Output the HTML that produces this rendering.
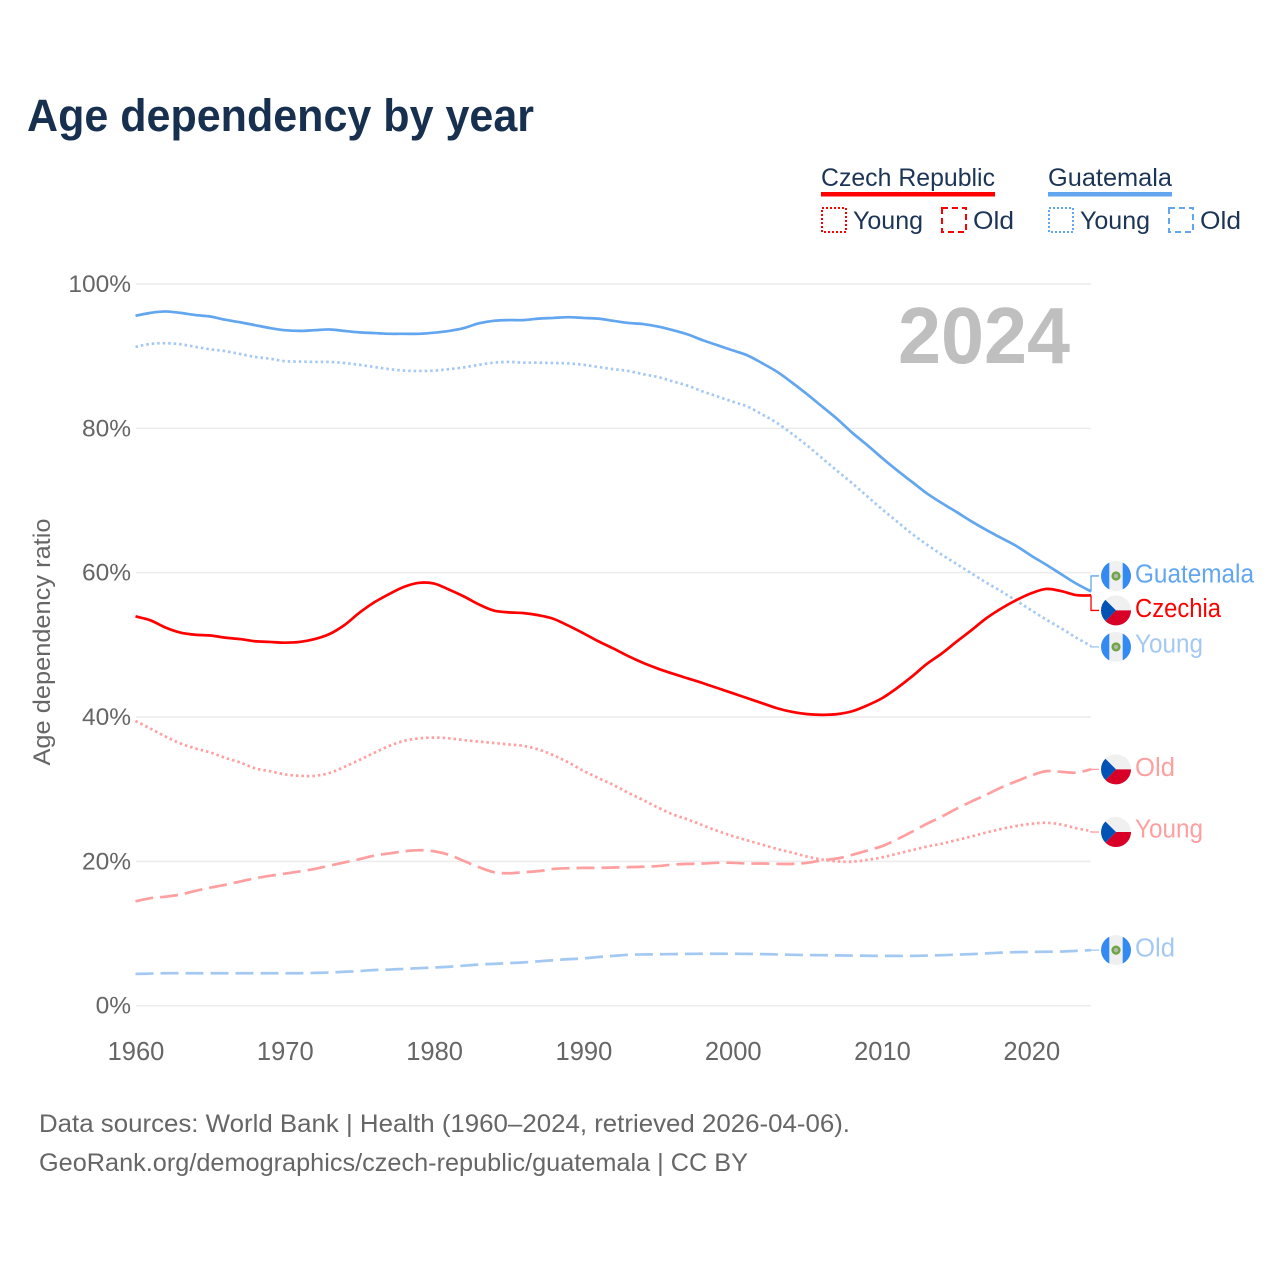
<!DOCTYPE html>
<html lang="en">
<head>
<meta charset="utf-8">
<title>Age dependency by year</title>
<style>
html,body{margin:0;padding:0;background:#fff;}
svg{display:block;}
text{font-family:"Liberation Sans",sans-serif;}
</style>
</head>
<body>
<svg id="chart" xmlns="http://www.w3.org/2000/svg" width="1280" height="1280" viewBox="0 0 1280 1280">
  <rect width="1280" height="1280" fill="#fff"/>
  <text x="27" y="131" font-size="45" font-weight="700" fill="#17304f" textLength="507" lengthAdjust="spacingAndGlyphs">Age dependency by year</text>

  <g font-size="25" fill="#1c3557">
    <g>
      <text x="821" y="186" textLength="174" lengthAdjust="spacingAndGlyphs">Czech Republic</text>
      <rect x="821" y="192" width="174" height="4.5" fill="#ff0000"/>
    </g>
    <g>
      <rect x="822" y="208" width="24" height="24" fill="none" stroke="#ff0000" stroke-width="2" stroke-dasharray="2 2"/>
      <text x="853" y="229" textLength="70" lengthAdjust="spacingAndGlyphs">Young</text>
    </g>
    <g>
      <rect x="942" y="208" width="24" height="24" fill="none" stroke="#ff0000" stroke-width="2" stroke-dasharray="6 4"/>
      <text x="973" y="229" textLength="41" lengthAdjust="spacingAndGlyphs">Old</text>
    </g>
    <g>
      <text x="1048" y="186" textLength="124" lengthAdjust="spacingAndGlyphs">Guatemala</text>
      <rect x="1048" y="192" width="124" height="4.5" fill="#62a6ef"/>
    </g>
    <g>
      <rect x="1049" y="208" width="24" height="24" fill="none" stroke="#62a6ef" stroke-width="2" stroke-dasharray="2 2"/>
      <text x="1080" y="229" textLength="70" lengthAdjust="spacingAndGlyphs">Young</text>
    </g>
    <g>
      <rect x="1169" y="208" width="24" height="24" fill="none" stroke="#62a6ef" stroke-width="2" stroke-dasharray="6 4"/>
      <text x="1200" y="229" textLength="41" lengthAdjust="spacingAndGlyphs">Old</text>
    </g>
  </g>

  <g id="grid"></g>
  <g id="yticks"></g>
  <g id="xticks"></g>
  <text transform="translate(50,642) rotate(-90)" text-anchor="middle" font-size="24.5" fill="#666" textLength="247" lengthAdjust="spacingAndGlyphs">Age dependency ratio</text>
  <text x="898" y="363" font-size="80" font-weight="700" fill="#bfbfbf" textLength="172" lengthAdjust="spacingAndGlyphs">2024</text>
  <g id="series"></g>
  <g id="endlabels"></g>

  <g font-size="25" fill="#666">
    <text x="39" y="1132" textLength="811" lengthAdjust="spacingAndGlyphs">Data sources: World Bank | Health (1960–2024, retrieved 2026-04-06).</text>
    <text x="39" y="1171" textLength="709" lengthAdjust="spacingAndGlyphs">GeoRank.org/demographics/czech-republic/guatemala | CC BY</text>
  </g>
</svg>

<script>
const startYear = 1960;
const xTickYears = [1960, 1970, 1980, 1990, 2000, 2010, 2020];
const yTickValues = [0, 20, 40, 60, 80, 100];
const yTickLabels = ["0%", "20%", "40%", "60%", "80%", "100%"];

const guatemalaTotal = [95.6,96.0,96.2,96.0,95.7,95.5,95.05,94.7,94.3,93.9,93.6,93.5,93.6,93.7,93.5,93.3,93.2,93.1,93.1,93.1,93.25,93.5,93.9,94.55,94.9,95.0,95.0,95.2,95.3,95.4,95.3,95.2,94.9,94.6,94.45,94.1,93.6,93.0,92.2,91.5,90.8,90.1,89.0,87.8,86.3,84.7,83.0,81.3,79.4,77.7,75.9,74.2,72.6,71.0,69.65,68.4,67.1,65.9,64.8,63.7,62.35,61.1,59.8,58.5,57.4];
const guatemalaYoung = [91.3,91.7,91.8,91.65,91.3,90.95,90.7,90.3,89.9,89.65,89.3,89.25,89.2,89.2,89.05,88.8,88.5,88.2,88.0,87.95,88.0,88.2,88.45,88.8,89.1,89.2,89.1,89.1,89.05,89.0,88.8,88.5,88.2,87.95,87.5,87.1,86.5,85.9,85.1,84.4,83.7,83.0,81.9,80.7,79.2,77.6,75.85,74.1,72.4,70.6,68.8,67.1,65.4,63.9,62.5,61.2,59.9,58.6,57.4,56.1,54.8,53.5,52.3,51.0,49.85];
const guatemalaOld = [4.4,4.45,4.5,4.5,4.5,4.5,4.5,4.5,4.5,4.5,4.5,4.5,4.55,4.6,4.7,4.8,4.95,5.0,5.1,5.2,5.3,5.4,5.55,5.7,5.8,5.9,6.0,6.15,6.3,6.45,6.55,6.75,6.9,7.05,7.1,7.12,7.15,7.18,7.2,7.2,7.2,7.18,7.15,7.1,7.05,7.02,7.0,6.97,6.95,6.92,6.9,6.9,6.9,6.95,7.0,7.08,7.15,7.25,7.35,7.42,7.45,7.48,7.5,7.6,7.7];
const czechTotal = [53.95,53.4,52.4,51.7,51.4,51.3,51.0,50.8,50.5,50.4,50.3,50.4,50.8,51.5,52.75,54.45,55.9,57.05,58.05,58.6,58.5,57.65,56.7,55.6,54.75,54.5,54.4,54.1,53.6,52.65,51.6,50.5,49.5,48.45,47.5,46.7,46.0,45.35,44.7,44.0,43.3,42.6,41.9,41.2,40.7,40.4,40.3,40.4,40.8,41.6,42.6,44.0,45.6,47.35,48.8,50.45,52.05,53.7,55.05,56.2,57.15,57.75,57.45,56.9,56.85];
const czechYoung = [39.45,38.4,37.3,36.35,35.65,35.1,34.35,33.7,32.9,32.5,32.05,31.85,31.85,32.25,33.1,34.05,35.05,36.0,36.7,37.05,37.15,37.05,36.8,36.6,36.4,36.2,36.0,35.5,34.7,33.7,32.55,31.55,30.6,29.5,28.5,27.45,26.5,25.8,25.0,24.2,23.5,22.9,22.3,21.7,21.2,20.65,20.25,20.0,19.95,20.2,20.55,21.05,21.55,22.05,22.45,22.95,23.45,24.0,24.5,24.9,25.2,25.35,25.1,24.6,24.2];
const czechOld = [14.45,14.9,15.1,15.4,15.9,16.35,16.75,17.2,17.65,18.0,18.3,18.6,18.95,19.4,19.85,20.3,20.8,21.1,21.4,21.55,21.4,20.9,20.05,19.2,18.5,18.35,18.5,18.65,18.95,19.05,19.1,19.1,19.15,19.2,19.25,19.35,19.55,19.65,19.7,19.8,19.8,19.7,19.7,19.65,19.65,19.8,20.15,20.4,20.9,21.5,22.1,23.05,24.1,25.2,26.2,27.3,28.3,29.25,30.25,31.1,31.9,32.5,32.4,32.3,32.75];

const SVG_NS = "http://www.w3.org/2000/svg";
function xScale(year) { return 135.5 + (year - startYear) * 14.93; }
function yScale(value) { return 1005.7 - value * 7.217; }
function make(tag, attrs, parent) {
  const el = document.createElementNS(SVG_NS, tag);
  for (const k in attrs) el.setAttribute(k, attrs[k]);
  parent.appendChild(el);
  return el;
}

const gridGroup = document.getElementById("grid");
const yTickGroup = document.getElementById("yticks");
const xTickGroup = document.getElementById("xticks");
const seriesGroup = document.getElementById("series");
const labelGroup = document.getElementById("endlabels");

yTickValues.forEach(function (v, i) {
  const line = make("line", {x1: 136, x2: xScale(2024), y1: yScale(v), y2: yScale(v), stroke: "#ececec", "stroke-width": 1.5}, gridGroup);
  
  
  const t = make("text", {x: 131, y: yScale(v) + 8, "text-anchor": "end", "font-size": 24.5, fill: "#666"}, yTickGroup);
  t.textContent = yTickLabels[i];
  
  
});

xTickYears.forEach(function (yr) {
  const t = make("text", {x: xScale(yr) + 0.5, y: 1060, "text-anchor": "middle", "font-size": 25.5, fill: "#666"}, xTickGroup);
  t.textContent = String(yr);
  
  
});

function smoothPath(values) {
  const px = values.map(function (v, i) { return [xScale(startYear + i), yScale(v)]; });
  let d = "M" + px[0][0].toFixed(2) + "," + px[0][1].toFixed(2);
  for (let i = 0; i < px.length - 1; i++) {
    const p0 = px[Math.max(i - 1, 0)], p1 = px[i], p2 = px[i + 1], p3 = px[Math.min(i + 2, px.length - 1)];
    const c1x = p1[0] + (p2[0] - p0[0]) / 6, c1y = p1[1] + (p2[1] - p0[1]) / 6;
    const c2x = p2[0] - (p3[0] - p1[0]) / 6, c2y = p2[1] - (p3[1] - p1[1]) / 6;
    d += " C" + c1x.toFixed(2) + "," + c1y.toFixed(2) + " " + c2x.toFixed(2) + "," + c2y.toFixed(2) + " " + p2[0].toFixed(2) + "," + p2[1].toFixed(2);
  }
  return d;
}

function drawLine(values, color, dash, name) {
  const attrs = {d: smoothPath(values), fill: "none", stroke: color, "stroke-width": 2.7, "stroke-linejoin": "round"};
  if (dash) attrs["stroke-dasharray"] = dash;
  const el = make("path", attrs, seriesGroup);
  
  
}

const RED = "#ff0000", BLUE = "#62a6ef", PINK = "#ff9f9f", SKY = "#a3c9f3";
const DOT = "2.5 3", DASH = "18 7";
drawLine(czechOld, PINK, DASH, "czech-old-line");
drawLine(czechYoung, PINK, DOT, "czech-young-line");
drawLine(guatemalaOld, SKY, DASH, "guatemala-old-line");
drawLine(guatemalaYoung, SKY, DOT, "guatemala-young-line");
drawLine(czechTotal, RED, null, "czech-total-line");
drawLine(guatemalaTotal, BLUE, null, "guatemala-total-line");

function drawFlag(country, cy, parent) {
  const cx = 1116, r = 15;
  const g = make("g", {transform: "translate(" + cx + "," + cy + ")"}, parent);
  
  
  make("circle", {r: r, fill: "#f0f0f0"}, g);
  if (country === "czech") {
    make("path", {d: "M0,0 L15,0 A15,15 0 0 1 -10.6,10.6 Z", fill: "#d80027"}, g);
    make("path", {d: "M-10.6,-10.6 L0,0 L-10.6,10.6 A15,15 0 0 1 -10.6,-10.6 Z", fill: "#0052b4"}, g);
  } else {
    make("path", {d: "M-6.7,-13.4 A15,15 0 0 0 -6.7,13.4 Z", fill: "#338af3"}, g);
    make("path", {d: "M6.7,-13.4 A15,15 0 0 1 6.7,13.4 Z", fill: "#338af3"}, g);
    make("circle", {r: 3.4, fill: "#b9b9a8", stroke: "#6da544", "stroke-width": 2.4}, g);
  }
}

function drawEndLabel(values, offset, color, text, country, width, name) {
  const endX = xScale(2024), endY = yScale(values[values.length - 1]);
  const labelY = endY + offset;
  const d = "M" + endX + "," + endY + " V" + labelY + " H1099";
  const conn = make("path", {d: d, fill: "none", stroke: color, "stroke-width": 1.3}, labelGroup);
  
  
  drawFlag(country, labelY, labelGroup);
  const t = make("text", {x: 1135, y: labelY + textNudge[name], "font-size": 25.5, fill: color, textLength: width, lengthAdjust: "spacingAndGlyphs"}, labelGroup);
  t.textContent = text;
  
  
}

const textNudge = {"guatemala-total": 6.5, "czech-total": 6.5, "guatemala-young": 5.5, "czech-old": 6.5, "czech-young": 5.5, "guatemala-old": 6.5};
drawEndLabel(guatemalaTotal, -15.5, BLUE, "Guatemala", "guatemala", 119, "guatemala-total");
drawEndLabel(czechTotal, 15, RED, "Czechia", "czech", 86, "czech-total");
drawEndLabel(guatemalaYoung, 1, SKY, "Young", "guatemala", 68, "guatemala-young");
drawEndLabel(czechOld, 0, PINK, "Old", "czech", 40, "czech-old");
drawEndLabel(czechYoung, 1, PINK, "Young", "czech", 68, "czech-young");
drawEndLabel(guatemalaOld, 0, SKY, "Old", "guatemala", 40, "guatemala-old");
</script>
</body>
</html>
